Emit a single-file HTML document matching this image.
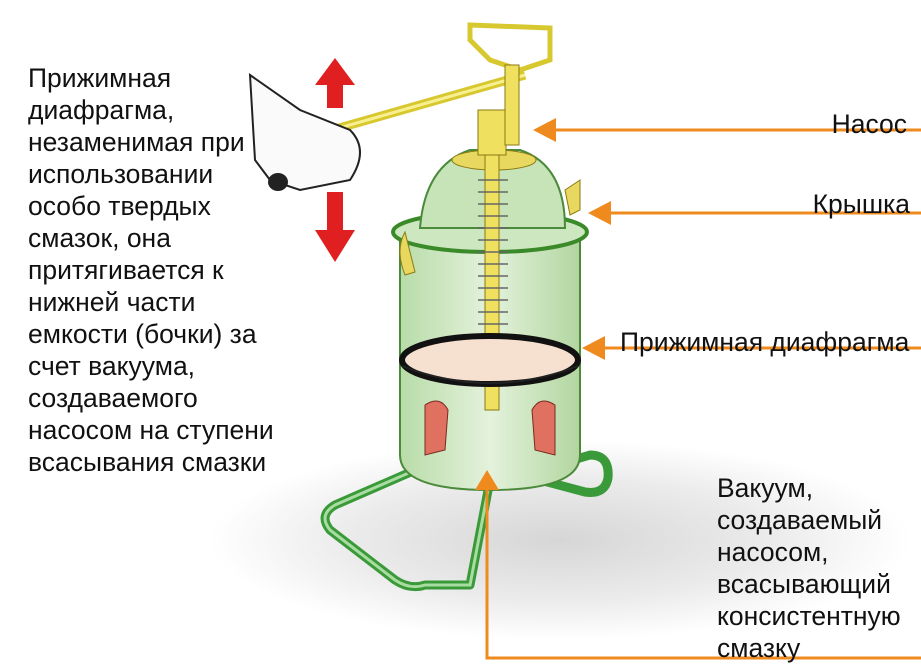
<!DOCTYPE html>
<html><head><meta charset="utf-8"><style>
html,body{margin:0;padding:0;background:#fff;}
body{width:921px;height:671px;position:relative;overflow:hidden;font-family:"Liberation Sans",sans-serif;color:#111;}
.t{position:absolute;font-size:26.5px;line-height:32px;white-space:nowrap;}
svg{position:absolute;left:0;top:0;}
</style></head><body>
<svg width="921" height="671" viewBox="0 0 921 671">
<defs>
<radialGradient id="sh" cx="50%" cy="50%" r="50%"><stop offset="0" stop-color="#d6d6d6"/><stop offset="0.6" stop-color="#ebebeb"/><stop offset="1" stop-color="#fff"/></radialGradient>
<linearGradient id="gb" x1="0" x2="1"><stop offset="0" stop-color="#b8dca8"/><stop offset="0.5" stop-color="#e4f2dc"/><stop offset="1" stop-color="#b2d6a0"/></linearGradient>
</defs>
<ellipse cx="560" cy="540" rx="350" ry="100" fill="url(#sh)"/>
<g fill="none" stroke="#3a9a3a" stroke-width="9" stroke-linejoin="round">
<path d="M420 468 L335 505 Q318 515 330 530 L395 580 Q410 590 425 585 L470 585 L490 480"/>
<path d="M540 470 L590 455 Q610 455 608 478 Q605 495 585 492 L540 480"/>
</g>
<g fill="none" stroke="#a8dca0" stroke-width="3">
<path d="M420 468 L335 505 Q318 515 330 530 L395 580 Q410 590 425 585 L470 585 L490 480"/>
</g>
<path d="M400 240 L400 455 Q400 490 490 490 Q580 490 580 455 L580 240 Z" fill="url(#gb)" stroke="#4a8a3a" stroke-width="2"/>
<ellipse cx="490" cy="232" rx="97" ry="20" fill="#cde8c0" stroke="#3a8a2a" stroke-width="4"/>
<path d="M420 228 Q425 165 470 150 L520 150 Q565 165 565 228 Z" fill="#c6e4b8" stroke="#4a8a3a" stroke-width="2"/>
<ellipse cx="494" cy="160" rx="42" ry="10" fill="#e8d860" stroke="#8a7a10"/>
<rect x="485" y="120" width="14" height="290" fill="#f0e060" stroke="#8a7a10"/>
<g fill="none" stroke="#666" stroke-width="1.5">
<path d="M478 180 h30 M478 192 h30 M478 204 h30 M478 216 h30 M478 228 h30 M478 240 h30 M478 252 h30 M478 264 h30 M478 276 h30 M478 288 h30 M478 300 h30 M478 312 h30 M478 324 h30 M478 336 h30"/>
</g>
<rect x="478" y="110" width="28" height="45" fill="#f0e060" stroke="#8a7a10"/>
<ellipse cx="490" cy="360" rx="88" ry="24" fill="#f6e0d0" stroke="#111" stroke-width="6"/>
<path d="M402 366 Q490 400 578 366" fill="none" stroke="#222" stroke-width="2"/>
<path d="M425 405 Q440 395 448 410 L445 450 L425 455 Z" fill="#e07060" stroke="#7a2a20"/>
<path d="M555 405 Q540 395 532 410 L535 450 L555 455 Z" fill="#e07060" stroke="#7a2a20"/>
<path d="M405 232 Q395 250 405 275 L415 272 Z" fill="#e8d860" stroke="#8a7a10"/>
<path d="M565 190 L580 180 L580 210 L570 215 Z" fill="#e8d860" stroke="#8a7a10"/>
<path d="M470 25 L550 28 L550 60 L520 70 L490 60 L470 40 Z" fill="none" stroke="#d8c830" stroke-width="5"/>
<line x1="255" y1="152" x2="525" y2="75" stroke="#d8c830" stroke-width="9"/>
<line x1="255" y1="152" x2="525" y2="75" stroke="#f8f090" stroke-width="3"/>
<rect x="505" y="65" width="14" height="80" fill="#f0e060" stroke="#8a7a10"/>
<path d="M250 75 L300 110 L350 130 Q370 150 350 180 L300 190 L270 180 L255 160 Z" fill="#fafafa" stroke="#222" stroke-width="2"/>
<ellipse cx="278" cy="182" rx="10" ry="9" fill="#222"/>
<path d="M335 58 L355 85 L343 85 L343 108 L327 108 L327 85 L315 85 Z" fill="#e02020"/>
<path d="M335 262 L355 230 L343 230 L343 192 L327 192 L327 230 L315 230 Z" fill="#e02020"/>
<g stroke="#ef8a1e" stroke-width="3" fill="#ef8a1e">
<line x1="550" y1="130" x2="921" y2="130"/><path d="M533 130 L556 118 L556 142 Z" stroke="none"/>
<line x1="605" y1="213" x2="921" y2="213"/><path d="M588 213 L611 201 L611 225 Z" stroke="none"/>
<line x1="600" y1="348" x2="921" y2="348"/><path d="M582 348 L605 336 L605 360 Z" stroke="none"/>
<polyline points="487,485 487,658 921,658" fill="none"/><path d="M487 470 L475 490 L499 490 Z" stroke="none"/>
</g>
</svg>
<div class="t" style="left:28px;top:62px;">Прижимная<br>диафрагма,<br>незаменимая при<br>использовании<br>особо твердых<br>смазок, она<br>притягивается к<br>нижней части<br>емкости (бочки) за<br>счет вакуума,<br>создаваемого<br>насосом на ступени<br>всасывания смазки</div>
<div class="t" style="right:14px;top:108px;">Насос</div>
<div class="t" style="right:11px;top:188px;">Крышка</div>
<div class="t" style="left:620px;top:326px;">Прижимная диафрагма</div>
<div class="t" style="left:717px;top:472px;">Вакуум,<br>создаваемый<br>насосом,<br>всасывающий<br>консистентную<br>смазку</div>
</body></html>
